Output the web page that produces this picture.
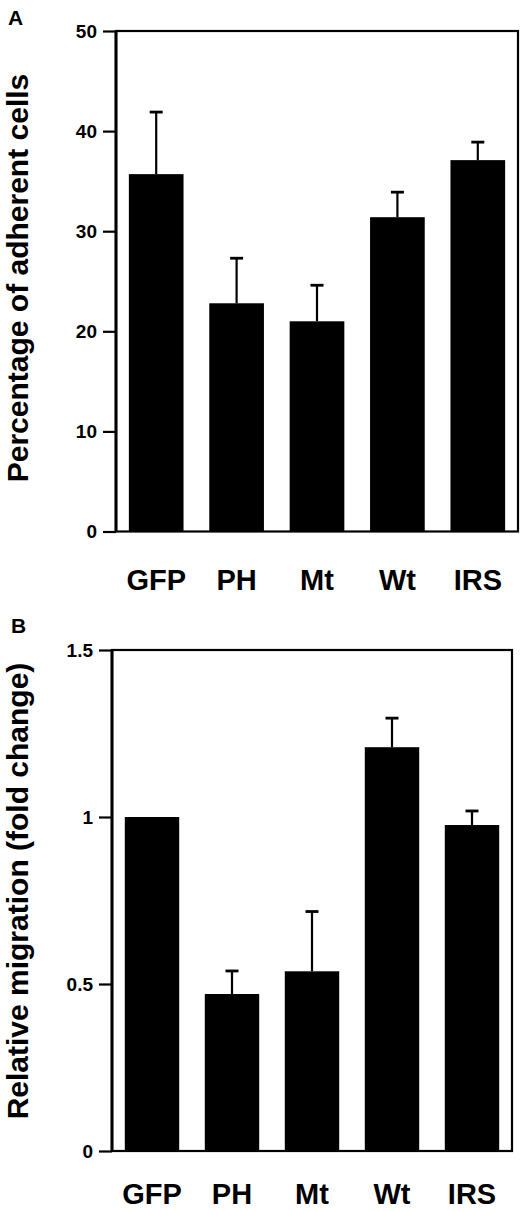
<!DOCTYPE html>
<html>
<head>
<meta charset="utf-8">
<script src="https://cdn.jsdelivr.net/npm/d3@7"></script>
<style>
  body { margin: 0; background: #fff; }
  text { font-family: 'Liberation Sans', Arial, sans-serif; font-weight: bold; fill: #000; }
</style>
</head>
<body>
<div id="chart"></div>
<script>
let categories = ['GFP', 'PH', 'Mt', 'Wt', 'IRS']

// panel A: percentage of adherent cells
let adhesion = [35.7, 22.8, 21.0, 31.4, 37.1]
let adhesionErr = [6.2, 4.5, 3.6, 2.5, 1.8]
let adhesionTicks = [0, 10, 20, 30, 40, 50]

// panel B: relative migration (fold change)
let migration = [1.0, 0.47, 0.538, 1.209, 0.976]
let migrationErr = [0, 0.069, 0.179, 0.087, 0.042]
let migrationTicks = [0, 0.5, 1, 1.5]

let width = 520
let height = 1211

let svg = d3
  .select('#chart')
  .append('svg')
  .attr('width', width)
  .attr('height', height)

let panels = [
  {
    letter: 'A', letterX: 8, letterY: 25,
    values: adhesion, errors: adhesionErr, ticks: adhesionTicks,
    max: 50, fmt: d3.format('d'),
    title: 'Percentage of adherent cells', titleY: 278,
    left: 116, right: 518, top: 31, bottom: 531.5, labelY: 590
  },
  {
    letter: 'B', letterX: 11, letterY: 633,
    values: migration, errors: migrationErr, ticks: migrationTicks,
    max: 1.5, fmt: d => (d === 0 || d === 1 ? d3.format('d')(d) : d3.format('.1f')(d)),
    title: 'Relative migration (fold change)', titleY: 891,
    left: 112, right: 512, top: 650, bottom: 1151, labelY: 1204
  }
]

panels.forEach(p => {
  let g = svg.append('g')

  let xScale = d3
    .scaleBand()
    .domain(categories)
    .range([p.left, p.right])
    .paddingInner(0.32)
    .paddingOuter(0.16)

  let yScale = d3
    .scaleLinear()
    .domain([0, p.max])
    .range([p.bottom, p.top])

  let data = categories.map((c, i) => ({ name: c, value: p.values[i], err: p.errors[i] }))

  // frame
  g.append('rect')
    .attr('x', p.left)
    .attr('y', p.top)
    .attr('width', p.right - p.left)
    .attr('height', p.bottom - p.top)
    .attr('fill', 'none')
    .attr('stroke', '#000')
    .attr('stroke-width', 2.2)

  // error bars (upper only)
  let errs = g
    .selectAll('.err')
    .data(data.filter(d => d.err > 0))
    .enter()
    .append('g')
    .attr('class', 'err')

  errs
    .append('line')
    .attr('x1', d => xScale(d.name) + xScale.bandwidth() / 2)
    .attr('x2', d => xScale(d.name) + xScale.bandwidth() / 2)
    .attr('y1', d => yScale(d.value))
    .attr('y2', d => yScale(d.value + d.err))
    .attr('stroke', '#000')
    .attr('stroke-width', 2.2)

  errs
    .append('line')
    .attr('x1', d => xScale(d.name) + xScale.bandwidth() / 2 - 6.5)
    .attr('x2', d => xScale(d.name) + xScale.bandwidth() / 2 + 6.5)
    .attr('y1', d => yScale(d.value + d.err))
    .attr('y2', d => yScale(d.value + d.err))
    .attr('stroke', '#000')
    .attr('stroke-width', 2.8)

  // bars
  g.selectAll('.bar')
    .data(data)
    .enter()
    .append('rect')
    .attr('class', 'bar')
    .attr('x', d => xScale(d.name))
    .attr('width', xScale.bandwidth())
    .attr('y', d => yScale(d.value))
    .attr('height', d => yScale(0) - yScale(d.value))
    .attr('fill', '#000')

  // y axis
  let yAxis = d3
    .axisLeft(yScale)
    .tickValues(p.ticks)
    .tickFormat(p.fmt)
    .tickSize(13)
    .tickPadding(6)

  let axisG = g
    .append('g')
    .attr('transform', `translate(${p.left},0)`)
    .call(yAxis)

  axisG.select('.domain').attr('stroke-width', 3).attr('d', `M0,${p.top}V${p.bottom}`)
  axisG.selectAll('.tick line').attr('stroke-width', 2.2)
  axisG
    .selectAll('.tick text')
    .attr('font-size', 19)
    .attr('font-family', "'Liberation Sans', Arial, sans-serif")
    .attr('font-weight', 'bold')

  // category labels
  g.selectAll('.cat')
    .data(categories)
    .enter()
    .append('text')
    .attr('class', 'cat')
    .attr('x', d => xScale(d) + xScale.bandwidth() / 2)
    .attr('y', p.labelY)
    .attr('text-anchor', 'middle')
    .attr('font-size', 29)
    .text(d => d)

  // y title
  g.append('text')
    .attr('transform', `translate(28,${p.titleY})rotate(-90)`)
    .attr('text-anchor', 'middle')
    .attr('font-size', 30)
    .text(p.title)

  // panel letter
  g.append('text')
    .attr('x', p.letterX)
    .attr('y', p.letterY)
    .attr('font-size', 21)
    .text(p.letter)
})
</script>
</body>
</html>
